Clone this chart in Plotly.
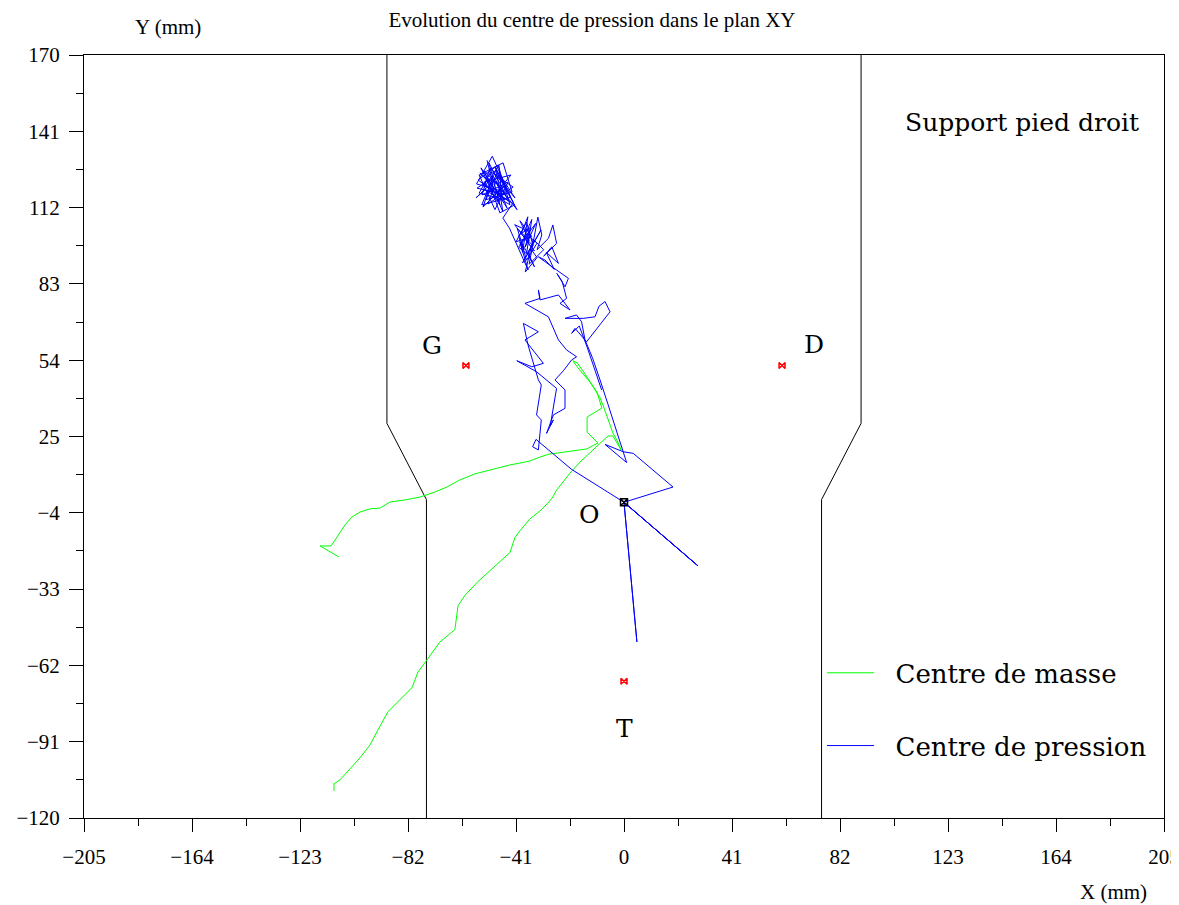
import plotly.graph_objects as go

# ---------------- data (mm) ----------------
x_ticks = [-205, -164, -123, -82, -41, 0, 41, 82, 123, 164, 205]
y_ticks = [-120, -91, -62, -33, -4, 25, 54, 83, 112, 141, 170]

# Centre de masse (green)
com_x = [-108.2, -115.4, -111.2, -105.9, -103.3, -100.2, -96.4, -92.6, -88.8, -83.1, -77.4, -71.8,
         -67.2, -62.3, -56.6, -50.9, -47.1, -43.3, -39.5, -35.7, -31.9, -28.1, -25.4, -20.5,
         -16.7, -14.0, -12.1, -9.9, -14.0, -14.0, -8.4, -9.5, -10.3, -12.1, -13.7, -15.6,
         -17.8, -19.4, -17.5, -15.2, -12.9, -11.0, -9.1, -8.0, -6.5, -5.3, -4.2, -2.7, -1.1,
         -4.2, -6.1, -9.1, -12.9, -16.7, -20.5, -23.5, -25.8, -27.0, -28.9, -31.9, -35.7,
         -39.5, -41.4, -43.3, -46.3, -50.9, -55.4, -60.4, -63.0, -64.2, -69.9, -74.8, -78.2,
         -80.5, -85.0, -89.6, -93.4, -96.4, -100.2, -105.2, -107.8, -110.1, -110.1]
com_y = [-20.8, -16.6, -16.6, -8.6, -5.6, -3.7, -2.5, -2.2, 0.1, 0.9, 2.0, 3.9,
         5.8, 8.5, 10.8, 12.3, 13.4, 14.2, 14.9, 15.7, 17.2, 18.4, 18.7, 19.5,
         19.9, 20.3, 21.4, 22.5, 26.7, 32.4, 35.8, 38.9, 42.0, 44.6, 47.3, 50.0,
         53.0, 53.8, 51.1, 48.4, 45.7, 42.7, 39.7, 37.0, 33.2, 29.4, 26.3, 23.7, 19.9,
         25.2, 25.2, 22.5, 18.8, 15.3, 11.1, 7.0, 4.3, 2.0, -0.3, -3.3, -6.3,
         -10.8, -13.4, -19.1, -21.8, -26.3, -30.1, -35.4, -39.3, -48.4, -53.1, -59.9, -64.5,
         -70.5, -75.1, -79.6, -86.5, -92.2, -97.1, -102.5, -105.5, -107.0, -109.7]

# Centre de pression (blue)
cop_x = [-52.0, -49.7, -54.7, -45.2, -55.4, -47.8, -43.3, -52.8, -56.2, -47.1, -41.4, -50.9,
         -53.9, -44.0, -49.0, -55.0, -45.9, -42.5, -52.4, -48.2, -40.6, -50.1, -55.8, -44.8,
         -51.3, -47.1, -53.2, -42.9, -49.4, -54.3, -44.4, -48.6, -51.6, -42.1, -50.5, -55.0,
         -46.3, -47.5, -52.4, -43.7, -49.7, -53.5, -45.2, -48.2, -41.4, -47.1,
         -53.0, -45.5, -56.0, -50.0, -43.0, -54.0, -48.5, -46.0, -51.5, -44.5, -49.0, -42.0,
         -46.0, -43.5, -36.4, -38.5, -39.5,
         -38.0, -40.5, -36.0, -39.5, -35.0, -41.0, -37.0, -34.5, -39.0, -36.5, -38.5, -40.0,
         -35.5, -37.5, -33.5, -39.5, -36.0, -41.5, -34.0, -38.0, -35.0, -37.0, -40.0, -36.5, -33.0,
         -37.0, -39.0, -34.0, -36.5, -31.5, -38.5, -35.5, -33.0, -37.5, -34.5, -30.5, -36.0,
         -32.7, -31.2, -33.0, -28.7, -27.0, -25.6, -30.5, -27.4, -24.9, -29.5, -26.5, -30.0,
         -32.5, -28.0, -21.1, -22.4, -25.5, -23.5, -21.8,
         -24.3, -20.5, -24.9, -31.9, -32.5, -31.9, -37.6, -28.7, -24.9, -21.8, -18.0, -19.9,
         -23.0, -26.2, -22.4, -22.4, -26.8, -29.4, -26.8, -28.0, -25.6, -33.2, -40.7, -35.0,
         -30.6, -37.6, -32.5, -35.7, -38.2, -36.5, -32.5, -31.4, -33.2, -31.4, -32.5, -34.7,
         -33.4, -19.9, 0.0,
         28.1, 0.0, 4.9, 0.2, 4.6, 0.0, 27.9, 0.0,
         18.6, 3.5, -0.3, -7.2, 1.0, -3.0, -6.0, -9.1, -12.0, -14.8, -16.1, -18.0, -22.4,
         -15.5, -11.0, -9.5, -7.2, -5.3, -7.2, -11.7, -14.2, -18.6, -19.9, -17.0, -14.0, -8.5]
cop_y = [130.0, 120.6, 125.2, 115.0, 122.5, 128.2, 113.1, 118.7, 115.7, 124.4, 115.7, 127.1,
         116.8, 121.7, 111.2, 124.4, 129.0, 117.9, 115.0, 125.2, 111.2, 123.3, 119.4, 116.8,
         129.0, 113.1, 121.7, 124.4, 116.5, 127.1, 111.9, 122.1, 113.4, 119.8, 125.6, 117.5,
         115.3, 128.2, 120.6, 114.5, 124.0, 112.2, 120.6, 117.1, 113.1, 110.0,
         126.0, 118.0, 121.0, 131.5, 116.0, 113.0, 126.5, 110.5, 123.0, 119.0, 127.5, 114.0,
         108.0, 104.2, 88.3, 95.5, 98.9,
         96.0, 104.0, 99.5, 107.0, 101.0, 99.0, 106.5, 97.5, 102.0, 108.5, 95.0, 101.5,
         104.5, 97.0, 106.0, 98.0, 103.0, 105.5, 95.5, 100.5, 107.5, 94.5, 97.0, 101.5, 98.5,
         92.0, 99.0, 89.5, 95.0, 103.5, 91.0, 96.5, 93.0, 87.5, 100.0, 96.0, 90.5,
         108.4, 101.6, 96.0, 100.3, 105.4, 98.4, 93.5, 97.1, 90.8, 95.0, 88.5, 92.1,
         93.3, 90.0, 85.1, 81.9, 87.0, 84.0, 77.5,
         75.6, 73.1, 78.8, 76.9, 80.7, 77.5, 75.6, 70.5, 61.7, 57.9, 55.3, 54.1,
         50.0, 46.5, 42.7, 35.7, 33.2, 26.2, 31.3, 29.0, 43.3, 49.6, 53.8, 51.5,
         52.8, 61.7, 64.8, 66.7, 68.0, 60.0, 46.5, 44.6, 33.2, 31.3, 19.9, 21.1,
         23.9, 12.5, 0.0,
         -24.2, 0.0, -53.1, -0.5, -52.6, 0.0, -24.0, 0.0,
         5.8, 18.6, 19.2, 22.0, 15.1, 28.0, 37.0, 46.5, 55.0, 61.7, 68.6, 71.2, 69.9,
         69.9, 70.5, 74.5, 76.3, 72.4, 69.9, 64.2, 61.0, 66.1, 64.2, 67.0, 59.0, 42.7]

# Foot support outline
foot_x = [-90, -90, -75, -75, None, 90, 90, 75, 75]
foot_y = [170, 30, 1, -120, None, 170, 30, 1, -120]

# Reference points
ref_x = [-60, 60, 0]
ref_y = [52, 52, -68]
ref_labels = ["G", "D", "T"]
ref_label_x = [-73, 72, 0]
ref_label_y = [59.7, 60, -86]
origin_x = [0]
origin_y = [0]

SERIF = "Liberation Serif, Times New Roman, serif"
CMLIKE = "DejaVu Serif, serif"
NB = "\u00a0\u00a0"

fig = go.Figure()
fig.add_trace(go.Scatter(x=foot_x, y=foot_y, mode="lines",
                         line=dict(color="black", width=1), showlegend=False, hoverinfo="skip"))
fig.add_trace(go.Scatter(x=com_x, y=com_y, mode="lines", name=NB + "Centre de masse",
                         line=dict(color="#00ff00", width=1), legendgroup="a"))
fig.add_trace(go.Scatter(x=cop_x, y=cop_y, mode="lines", name=NB + "Centre de pression",
                         line=dict(color="#0000ff", width=1), legendgroup="b"))
fig.add_trace(go.Scatter(x=ref_x, y=ref_y, mode="markers", showlegend=False,
                         marker=dict(symbol="bowtie-open", size=6, color="red", line=dict(width=1.5))))
fig.add_trace(go.Scatter(x=origin_x, y=origin_y, mode="markers", showlegend=False,
                         marker=dict(symbol="square-x-open", size=7, color="black", line=dict(width=1.5))))

ann = []
for lx, ly, t in zip(ref_label_x, ref_label_y, ref_labels):
    ann.append(dict(x=lx, y=ly, xref="x", yref="y", text=t, showarrow=False,
                    font=dict(family=CMLIKE, size=25, color="black")))
ann.append(dict(x=-13, y=-4.5, xref="x", yref="y", text="O", showarrow=False,
                font=dict(family=CMLIKE, size=25, color="black")))
ann.append(dict(x=151, y=144.5, xref="x", yref="y", text="Support pied droit", showarrow=False,
                font=dict(family=CMLIKE, size=25, color="black")))
ann.append(dict(x=0.0778, y=1.0367, xref="paper", yref="paper", text="Y (mm)", showarrow=False,
                xanchor="center", yanchor="middle",
                font=dict(family=SERIF, size=21, color="black")))
ann.append(dict(x=0.9537, y=-0.097, xref="paper", yref="paper", text="X (mm)", showarrow=False,
                xanchor="center", yanchor="middle",
                font=dict(family=SERIF, size=21, color="black")))

def tick_text(vals):
    return [("\u2212" + str(abs(v))) if v < 0 else str(v) for v in vals]

x_minor = [(a + b) / 2 for a, b in zip(x_ticks[:-1], x_ticks[1:])]
y_minor = [(a + b) / 2 for a, b in zip(y_ticks[:-1], y_ticks[1:])]

fig.update_layout(
    width=1179, height=897,
    margin=dict(l=76, r=23, t=47, b=87, autoexpand=False),
    paper_bgcolor="white", plot_bgcolor="white",
    title=dict(text="Evolution du centre de pression dans le plan XY", x=0.4953, xanchor="center",
               y=0.9866, yanchor="middle", xref="container", yref="container",
               font=dict(family=SERIF, size=21, color="black")),
    showlegend=True,
    legend=dict(x=0.6833, y=0.221, xanchor="left", yanchor="top", bgcolor="rgba(0,0,0,0)",
                font=dict(family=CMLIKE, size=26, color="black"), itemwidth=47,
                tracegroupgap=36, traceorder="grouped"),
    annotations=ann,
)
fig.update_xaxes(range=[-205, 205], tickmode="array", tickvals=x_ticks, ticktext=tick_text(x_ticks),
                 showgrid=False, zeroline=False, showline=True, linecolor="black", linewidth=1,
                 mirror=True, ticks="outside", ticklen=13, tickcolor="black", ticklabelstandoff=7,
                 automargin=False, ticklabeloverflow="allow",
                 tickfont=dict(family=SERIF, size=21, color="black"),
                 minor=dict(tickmode="array", tickvals=x_minor, ticks="outside", ticklen=7,
                            tickcolor="black", showgrid=False))
fig.update_yaxes(range=[-120, 170], tickmode="array", tickvals=y_ticks, ticktext=tick_text(y_ticks),
                 showgrid=False, zeroline=False, showline=True, linecolor="black", linewidth=1,
                 mirror=True, ticks="outside", ticklen=14, tickcolor="black", ticklabelstandoff=5,
                 automargin=False, ticklabeloverflow="allow",
                 tickfont=dict(family=SERIF, size=21, color="black"),
                 minor=dict(tickmode="array", tickvals=y_minor, ticks="outside", ticklen=7,
                            tickcolor="black", showgrid=False))

fig.write_html("out.html",
               post_script="document.documentElement.style.overflow='hidden';"
                           "document.body.style.overflow='hidden';")
